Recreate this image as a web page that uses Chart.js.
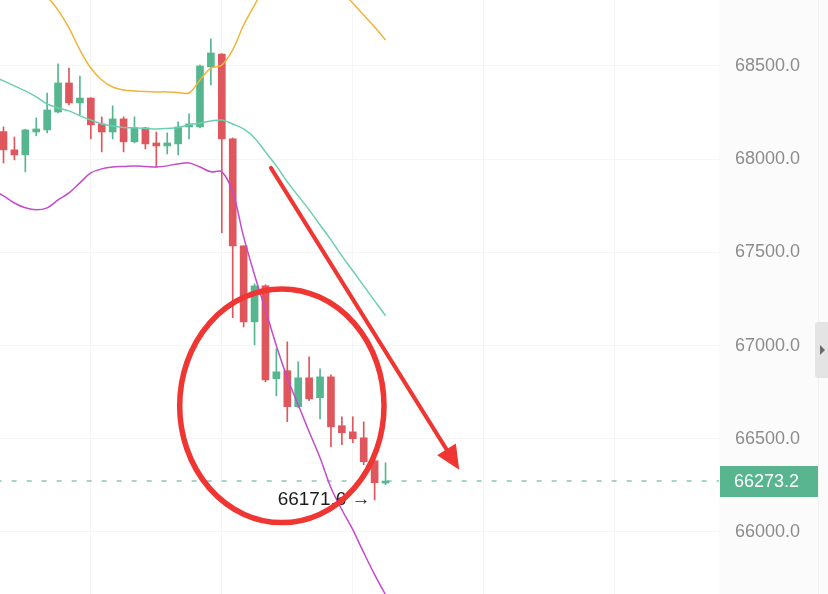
<!DOCTYPE html>
<html lang="en">
<head>
  <meta charset="UTF-8" />
  <title>BTC 15m chart</title>
  <script src="https://cdn.jsdelivr.net/npm/chart.js"></script>
  <style>
    html, body { margin: 0; padding: 0; background: #fff; }
    #wrap { width: 828px; height: 594px; position: relative; }
  </style>
</head>
<body>
  <div id="wrap"><canvas id="chart"></canvas></div>

  <script>
    // candles (index 0 = first visible bar)
    const opens  = [68148, 68050, 68023, 68146, 68157, 68253, 68409, 68302, 68328, 68189, 68146, 68216, 68093, 68168, 68087, 68071, 68082, 68173, 68173, 68495, 68564, 68109, 67535, 67127, 67320, 66822, 66865, 66672, 66827, 66720, 66832, 66570, 66537, 66505, 66382, 66262];
    const highs  = [68173, 68119, 68160, 68221, 68355, 68511, 68489, 68446, 68330, 68227, 68286, 68227, 68227, 68170, 68146, 68141, 68200, 68243, 68505, 68645, 68566, 68114, 67535, 67331, 67326, 66983, 67020, 66913, 66940, 66875, 66843, 66618, 66618, 66591, 66382, 66371];
    const lows   = [67980, 67996, 67932, 68125, 68141, 68248, 68291, 68237, 68109, 68039, 68109, 68039, 68087, 68055, 67958, 68028, 68023, 68109, 68168, 68398, 67605, 67149, 67100, 67004, 66806, 66730, 66591, 66666, 66704, 66607, 66457, 66468, 66479, 66361, 66171.6, 66253];
    const closes = [68050, 68023, 68157, 68162, 68264, 68409, 68302, 68328, 68184, 68146, 68216, 68093, 68168, 68082, 68071, 68087, 68173, 68189, 68500, 68570, 68109, 67535, 67127, 67320, 66816, 66859, 66672, 66827, 66714, 66832, 66564, 66532, 66500, 66377, 66264, 66273.2];

    // bollinger bands, first value is the bar just left of the view (index -1)
    const bbUpper  = [69150, 69095, 69041, 68988, 68918, 68870, 68800, 68704, 68586, 68489, 68425, 68387, 68371, 68366, 68363, 68361, 68361, 68358, 68355, 68425, 68489, 68505, 68586, 68720, 68827, 68934, 69041, 69122, 69149, 69149, 69122, 69041, 68907, 68838, 68773, 68709, 68639];
    const bbMiddle = [68446, 68420, 68393, 68366, 68334, 68296, 68275, 68259, 68232, 68210, 68189, 68178, 68170, 68168, 68165, 68162, 68165, 68170, 68184, 68194, 68205, 68210, 68189, 68162, 68114, 68039, 67964, 67878, 67803, 67728, 67647, 67567, 67481, 67401, 67320, 67240, 67160];
    const bbLower  = [67835, 67803, 67765, 67739, 67728, 67739, 67781, 67819, 67873, 67926, 67948, 67958, 67961, 67964, 67961, 67958, 67964, 67975, 67980, 67958, 67932, 67932, 67824, 67583, 67379, 67192, 66999, 66827, 66682, 66538, 66398, 66237, 66119, 66012, 65889, 65771, 65663];

    const yTicks = [66000, 66500, 67000, 67500, 68000, 68500];
    const xGrid = [8, 20, 32, 44, 56];
    const lastPrice = 66273.2;
    const lowPrice = 66171.6;
    const lowIndex = 34;

    // hand drawn marks, in data units (bar index, price)
    const circle = { x: 25.5, y: 66677, rx: 9.36, ry: 627 };
    const arrow = { from: [24.5, 67953], to: [41.75, 66334] };

    const GREEN = '#56b68f';
    const RED = '#df565c';
    const pts = (arr, start) => arr.map((v, i) => ({ x: i + start, y: v }));
    const candleColor = ctx => closes[ctx.dataIndex] >= opens[ctx.dataIndex] ? GREEN : RED;

    const overlay = {
      id: 'overlay',
      beforeDraw(chart) {
        const { ctx, chartArea: a, width, height } = chart;
        ctx.save();
        ctx.fillStyle = '#ffffff';
        ctx.fillRect(0, 0, width, height);
        ctx.fillStyle = '#fbfbfb';
        ctx.fillRect(a.right, 0, width - a.right, height);
        ctx.restore();
      },
      afterDatasetsDraw(chart) {
        const { ctx, scales: { x, y } } = chart;
        ctx.save();
        // low marker text
        ctx.font = '19px "Liberation Sans", "DejaVu Sans", sans-serif';
        ctx.fillStyle = '#1c1c1c';
        ctx.textAlign = 'right';
        ctx.textBaseline = 'middle';
        ctx.fillText('66171.6 \u2192', x.getPixelForValue(lowIndex) - 4, y.getPixelForValue(lowPrice));

        // red circle
        const cx = x.getPixelForValue(circle.x), cy = y.getPixelForValue(circle.y);
        const rx = x.getPixelForValue(circle.x + circle.rx) - cx;
        const ry = y.getPixelForValue(circle.y - circle.ry) - cy;
        ctx.strokeStyle = '#ef3632';
        ctx.lineWidth = 5.5;
        ctx.beginPath();
        ctx.ellipse(cx, cy, rx, ry, 0, 0, Math.PI * 2);
        ctx.stroke();

        // red arrow
        const x1 = x.getPixelForValue(arrow.from[0]), y1 = y.getPixelForValue(arrow.from[1]);
        const x2 = x.getPixelForValue(arrow.to[0]), y2 = y.getPixelForValue(arrow.to[1]);
        const ang = Math.atan2(y2 - y1, x2 - x1);
        const headLen = 24, headW = 11;
        const bx = x2 - headLen * Math.cos(ang), by = y2 - headLen * Math.sin(ang);
        ctx.lineWidth = 4;
        ctx.lineCap = 'round';
        ctx.beginPath();
        ctx.moveTo(x1, y1);
        ctx.lineTo(bx, by);
        ctx.stroke();
        ctx.fillStyle = '#ef3632';
        ctx.beginPath();
        ctx.moveTo(x2, y2);
        ctx.lineTo(bx + headW * Math.sin(ang), by - headW * Math.cos(ang));
        ctx.lineTo(bx - headW * Math.sin(ang), by + headW * Math.cos(ang));
        ctx.closePath();
        ctx.fill();
        ctx.restore();
      },
      afterDraw(chart) {
        const { ctx, chartArea: a, width, scales: { y } } = chart;
        ctx.save();
        // last price tag
        const py = y.getPixelForValue(lastPrice);
        ctx.fillStyle = '#58b58f';
        ctx.fillRect(a.right + 1, py - 15, 98, 31);
        ctx.font = '18px "Liberation Sans", Arial, sans-serif';
        ctx.fillStyle = '#ffffff';
        ctx.textAlign = 'left';
        ctx.textBaseline = 'middle';
        ctx.fillText(lastPrice.toFixed(1), a.right + 15, py + 1);

        // collapse tab on the right edge
        ctx.fillStyle = '#f1f1f1';
        ctx.fillRect(width - 10, 0, 1, chart.height);
        ctx.fillStyle = '#e4e4e4';
        ctx.beginPath();
        ctx.roundRect(width - 13, 322, 16, 56, 3);
        ctx.fill();
        ctx.fillStyle = '#6a6a6a';
        ctx.beginPath();
        ctx.moveTo(width - 8, 345);
        ctx.lineTo(width - 3, 350);
        ctx.lineTo(width - 8, 355);
        ctx.closePath();
        ctx.fill();
        ctx.restore();
      }
    };

    new Chart(document.getElementById('chart'), {
      type: 'bar',
      data: {
        datasets: [
          { type: 'line', data: pts(bbUpper, -1), borderColor: '#f0b43a', borderWidth: 1.5, pointRadius: 0, tension: 0.35, order: 0 },
          { type: 'line', data: pts(bbMiddle, -1), borderColor: '#6acfb0', borderWidth: 1.5, pointRadius: 0, tension: 0.35, order: 0 },
          { type: 'line', data: pts(bbLower, -1), borderColor: '#c44bcb', borderWidth: 1.5, pointRadius: 0, tension: 0.35, order: 0 },
          {
            data: opens.map((o, i) => ({ x: i, y: [o, closes[i]] })),
            backgroundColor: candleColor, barThickness: 7, minBarLength: 2, grouped: false, order: 1
          },
          {
            data: lows.map((l, i) => ({ x: i, y: [l, highs[i]] })),
            backgroundColor: candleColor, barThickness: 1, grouped: false, order: 2
          },
          {
            type: 'line', data: [{ x: -2, y: lastPrice }, { x: 70, y: lastPrice }],
            borderColor: '#4fab8a', borderWidth: 1, borderDash: [5, 10], pointRadius: 0, order: 3
          }
        ]
      },
      options: {
        responsive: true,
        maintainAspectRatio: false,
        animation: false,
        layout: { padding: 0 },
        plugins: { legend: { display: false }, tooltip: { enabled: false } },
        scales: {
          x: {
            type: 'linear',
            offset: false,
            min: -0.32,
            max: 65.55,
            afterBuildTicks: s => { s.ticks = xGrid.map(v => ({ value: v })); },
            afterFit: s => { s.height = 0; s.paddingLeft = 0; s.paddingRight = 0; },
            ticks: { display: false },
            border: { display: false },
            grid: { color: '#f5f5f5', drawTicks: false, offset: false }
          },
          y: {
            position: 'right',
            min: 65667,
            max: 68854,
            afterBuildTicks: s => { s.ticks = yTicks.map(v => ({ value: v })); },
            afterFit: s => { s.width = 109; s.paddingTop = 0; s.paddingBottom = 0; },
            border: { display: false },
            grid: { color: '#f5f5f5', drawTicks: false },
            ticks: {
              padding: 16,
              color: '#8c8c8c',
              font: { family: '"Liberation Sans", Arial, sans-serif', size: 18 },
              callback: v => Number(v).toFixed(1)
            }
          }
        }
      },
      plugins: [overlay]
    });
  </script>
</body>
</html>
